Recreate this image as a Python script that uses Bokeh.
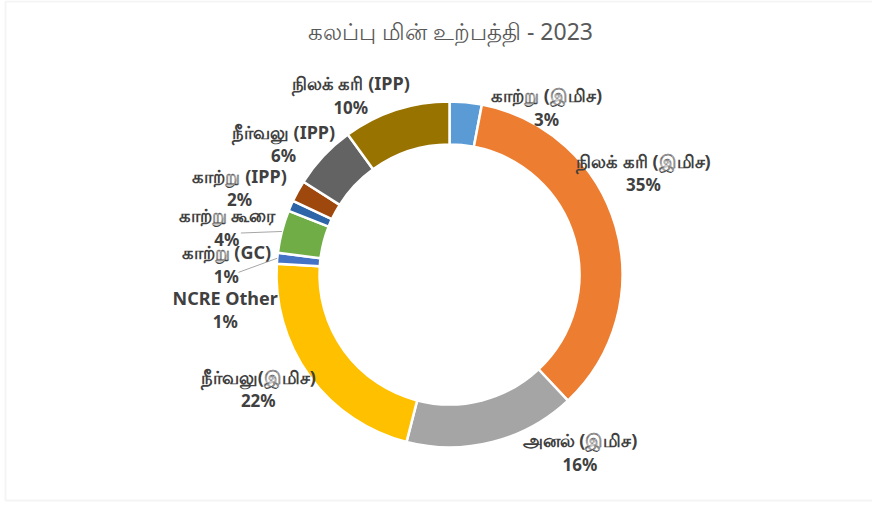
import math
from bokeh.plotting import figure
from bokeh.models import ColumnDataSource, Label, Range1d, BoxAnnotation
from bokeh.core.properties import value
from bokeh.embed import file_html
from bokeh.resources import INLINE

# ---- data ----
names = ["காற்று (இமிச)", "நிலக் கரி (இமிச)", "அனல் (இமிச)", "நீர்வலு(இமிச)",
         "காற்று (GC)", "காற்று கூரை", "NCRE Other", "காற்று (IPP)",
         "நீர்வலு (IPP)", "நிலக் கரி (IPP)"]
shares = [3, 35, 16, 22, 1, 4, 1, 2, 6, 10]
colors = ["#5B9BD5", "#ED7D31", "#A5A5A5", "#FFC000", "#4472C4",
          "#70AD47", "#2E64A8", "#9E480E", "#636363", "#997300"]
title_text = "கலப்பு மின் உற்பத்தி - 2023"

# ---- layout (label nudges in px: dx right, dy down) ----
nudges = [(78, 35), (-1, -45), (80, -19), (-27, -5), (-21, 9),
          (-26, 3), (-38, 116), (-32, 11), (-18, 8), (-36, 14)]
leaders = {4: (12, 8), 5: (14, 6)}

W, H = 872, 502
cx, cy = 449, 228
r_out, r_in = 173, 130
r_lab = r_out + 30

total = float(sum(shares))
starts, ends, mids = [], [], []
c = 0.0
for v in shares:
    a0 = math.pi / 2 - 2 * math.pi * c / total
    c += v
    a1 = math.pi / 2 - 2 * math.pi * c / total
    starts.append(a0)
    ends.append(a1)
    mids.append((a0 + a1) / 2)

p = figure(width=W, height=H, output_backend="svg", toolbar_location=None,
           x_range=Range1d(0, W), y_range=Range1d(0, H), min_border=0)
p.axis.visible = False
p.grid.visible = False
p.outline_line_color = None
p.background_fill_color = "white"

p.add_layout(BoxAnnotation(left=5, right=W + 20, top=H - 1, bottom=2,
                           left_units="screen", right_units="screen",
                           top_units="screen", bottom_units="screen",
                           fill_color=None, line_color="#d9d9d9", line_width=2))

src = ColumnDataSource(dict(start=starts, end=ends, color=colors))
p.annular_wedge(x=cx, y=cy, inner_radius=r_in, outer_radius=r_out,
                start_angle="start", end_angle="end", direction="clock",
                fill_color="color", line_color="white", line_width=2.5,
                source=src)

lx, ly, pct = [], [], []
for i, (v, m) in enumerate(zip(shares, mids)):
    dx, dy = nudges[i]
    x = cx + r_lab * math.cos(m) + dx
    y = cy + r_lab * math.sin(m) - dy
    lx.append(x)
    ly.append(y)
    pct.append(f"{v}%")

# leader lines
for i, (ox, oy) in leaders.items():
    m = mids[i]
    ex = cx + r_out * math.cos(m)
    ey = cy + r_out * math.sin(m)
    p.line([lx[i] + ox, ex], [ly[i] - oy, ey], line_color="#a6a6a6", line_width=1)

lab = ColumnDataSource(dict(x=lx, y1=[y + 12 for y in ly], y2=[y - 12 for y in ly],
                            name=names, pct=pct))
p.text(x="x", y="y1", text="name", source=lab, text_align="center",
       text_baseline="middle", text_font=value("Noto Sans"), text_font_size="18px",
       text_font_style="bold", text_color="#404040")
p.text(x="x", y="y2", text="pct", source=lab, text_align="center",
       text_baseline="middle", text_font=value("Noto Sans"), text_font_size="17px",
       text_font_style="bold", text_color="#404040")

p.add_layout(Label(x=450, y=H - 30, x_units="screen", y_units="screen", text=title_text,
                   text_align="center", text_baseline="middle",
                   text_font="Noto Sans", text_font_size="23px",
                   text_color="#595959"))

open("out.html", "w").write(file_html(p, INLINE))
